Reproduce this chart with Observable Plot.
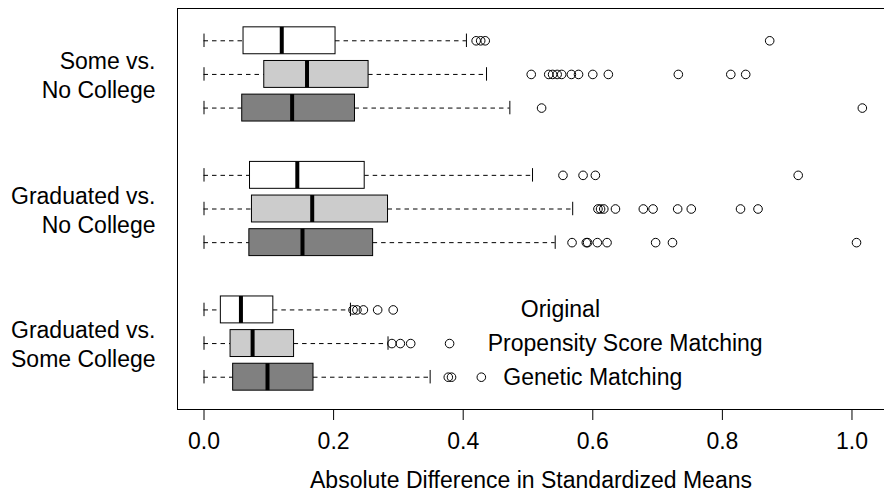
<!DOCTYPE html>
<html><head><meta charset="utf-8">
<script src="https://cdn.jsdelivr.net/npm/d3@7"></script>
<script src="https://cdn.jsdelivr.net/npm/@observablehq/plot@0.6"></script>
<style>html,body{margin:0;padding:0;background:#fff;} #chart svg{display:block}</style>
</head><body><div id="chart"></div>
<script>
// Comparison groups (top to bottom) and balancing methods
const groups = ["Some vs.\nNo College", "Graduated vs.\nNo College", "Graduated vs.\nSome College"];
const methods = ["Original", "Propensity Score Matching", "Genetic Matching"];

// Box statistics, ordered group by group, method by method
const lo  = [0, 0, 0, 0, 0, 0, 0, 0, 0];
const q1  = [0.061, 0.093, 0.059, 0.071, 0.074, 0.070, 0.026, 0.041, 0.045];
const med = [0.120, 0.159, 0.136, 0.144, 0.167, 0.152, 0.057, 0.075, 0.098];
const q3  = [0.203, 0.254, 0.233, 0.248, 0.284, 0.261, 0.107, 0.139, 0.169];
const hi  = [0.405, 0.436, 0.472, 0.507, 0.569, 0.542, 0.226, 0.284, 0.349];
const outliers = [
  [0.420, 0.427, 0.434, 0.873],
  [0.505, 0.532, 0.538, 0.545, 0.552, 0.567, 0.578, 0.600, 0.624, 0.732, 0.813, 0.836],
  [0.521, 1.016],
  [0.554, 0.585, 0.604, 0.917],
  [0.608, 0.612, 0.617, 0.635, 0.678, 0.693, 0.731, 0.752, 0.828, 0.855],
  [0.568, 0.590, 0.592, 0.607, 0.622, 0.697, 0.723, 1.007],
  [0.230, 0.236, 0.246, 0.268, 0.292],
  [0.290, 0.303, 0.319, 0.379],
  [0.377, 0.382, 0.428]
];
const xTicks = [0, 0.2, 0.4, 0.6, 0.8, 1.0];
const xTitle = "Absolute Difference in Standardized Means";
const legendCenters = [0.55, 0.65, 0.60];

// styles
const fills = ["white", "#cccccc", "#808080"];
const xDomain = [-0.0409, 1.0502];
const yDomain = [0.04, 11.96];

const boxes = lo.map((_, i) => {
  const g = Math.floor(i / 3), m = i % 3;
  return {g, m, pos: g * 4 + m + 1, lo: lo[i], q1: q1[i], med: med[i], q3: q3[i], hi: hi[i], fill: fills[m]};
});
const outs = boxes.flatMap((b, i) => outliers[i].map(v => ({v, pos: b.pos})));

const plot = Plot.plot({
  width: 884, height: 492,
  marginTop: 8, marginBottom: 83, marginLeft: 177, marginRight: 0,
  style: {fontFamily: "'Liberation Sans', Arial, sans-serif", fontSize: "23px", color: "black", background: "white"},
  x: {domain: xDomain, axis: null},
  y: {domain: yDomain, reverse: true, axis: null},
  color: {type: "identity"},
  marks: [
    Plot.ruleY(yDomain, {stroke: "black", strokeWidth: 1}),
    Plot.ruleX([xDomain[0]], {stroke: "black", strokeWidth: 1}),
    Plot.ruleY(boxes, {y: "pos", x1: "lo", x2: "q1", stroke: "black", strokeDasharray: "4.5,4"}),
    Plot.ruleY(boxes, {y: "pos", x1: "q3", x2: "hi", stroke: "black", strokeDasharray: "4.5,4"}),
    Plot.ruleX(boxes, {x: "lo", y1: d => d.pos - 0.2, y2: d => d.pos + 0.2, stroke: "black"}),
    Plot.ruleX(boxes, {x: "hi", y1: d => d.pos - 0.2, y2: d => d.pos + 0.2, stroke: "black"}),
    Plot.rect(boxes, {x1: "q1", x2: "q3", y1: d => d.pos - 0.4, y2: d => d.pos + 0.4, fill: "fill", stroke: "black", strokeWidth: 1}),
    Plot.ruleX(boxes, {x: "med", y1: d => d.pos - 0.4, y2: d => d.pos + 0.4, stroke: "black", strokeWidth: 4}),
    Plot.dot(outs, {x: "v", y: "pos", r: 4.3, stroke: "black", fill: "none", strokeWidth: 1}),
    Plot.text(methods, {x: (d, i) => legendCenters[i], y: (d, i) => 9 + i, text: d => d, textAnchor: "middle", fontSize: 23, fill: "black"}),
    Plot.text(groups, {y: (d, i) => i * 4 + 2, text: d => d, frameAnchor: "left", dx: -22, textAnchor: "end", lineHeight: 1.26, fontSize: 23, fill: "black"}),
    Plot.axisX({ticks: xTicks, tickFormat: d3.format(".1f"), tickSize: 11, tickPadding: 12, fontSize: 23, label: null, stroke: "black"}),
    Plot.text([xTitle], {text: d => d, frameAnchor: "bottom", dy: 78, lineAnchor: "bottom", fontSize: 23, fill: "black"})
  ]
});
document.getElementById("chart").appendChild(plot);
</script>
</body></html>
